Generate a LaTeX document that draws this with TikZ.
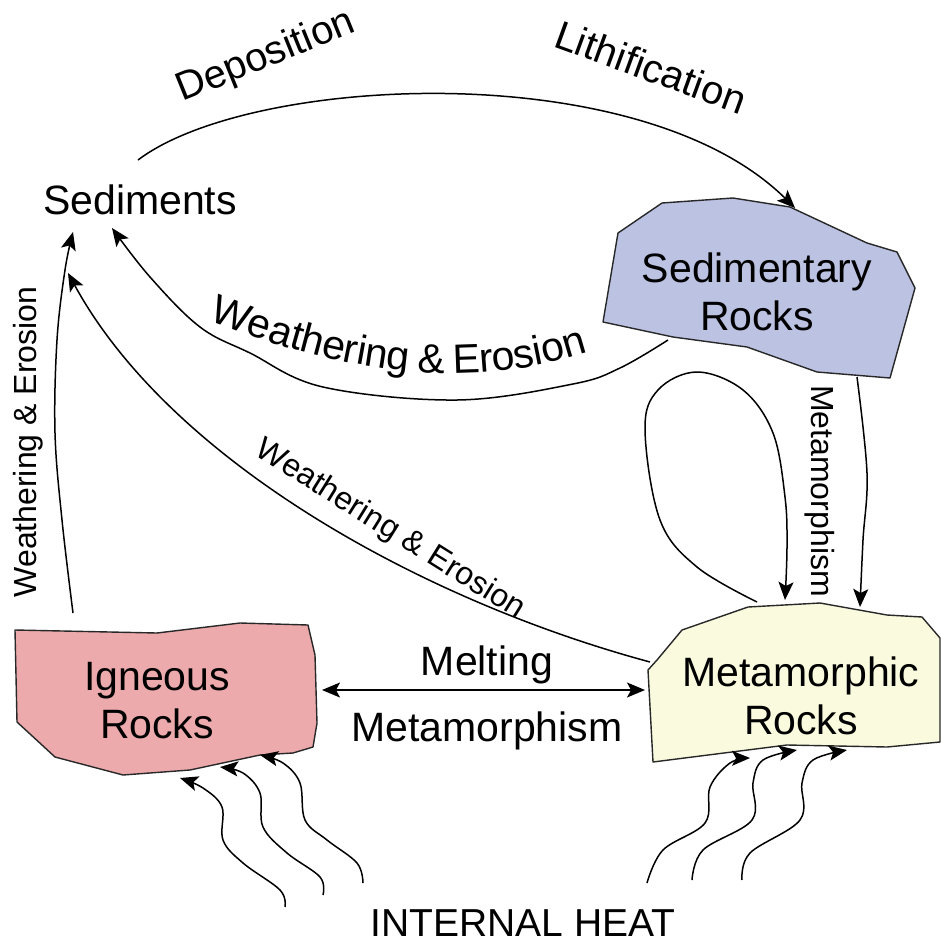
\documentclass[tikz,border=0pt]{standalone}
\usepackage{fontspec}
\setmainfont{Liberation Sans}
\usetikzlibrary{arrows.meta}
\definecolor{sedfill}{RGB}{187,194,226}
\definecolor{ignfill}{RGB}{236,170,172}
\definecolor{metfill}{RGB}{250,250,222}
\definecolor{edgecol}{RGB}{40,40,40}
\newcommand\szL{\fontsize{41}{48}\selectfont}
\newcommand\szM{\fontsize{40}{46}\selectfont}
\newcommand\szH{\fontsize{39}{46}\selectfont}
\newcommand\szS{\fontsize{32}{36}\selectfont}
\tikzset{
  rock/.style={draw=edgecol, line width=1.4pt, line join=round},
  lbl/.style={inner sep=0pt, align=center, text=black},
  ch/.style={inner sep=0pt, font=\szL, sloped, anchor=base},
  conn/.style={draw=black, line width=1.5pt, -{Stealth[length=18pt,width=15pt,inset=4pt]}},
  dbl/.style={draw=black, line width=1.5pt, {Stealth[length=18pt,width=15pt,inset=4pt]}-{Stealth[length=18pt,width=15pt,inset=4pt]}},
}
\begin{document}
\begin{tikzpicture}[x=1pt,y=-1pt]
\useasboundingbox (0,0) rectangle (940,945);
\fill[white] (0,0) rectangle (940,945);

% rock shapes
\path[rock, fill=sedfill] (662,203) -- (733,198) -- (790,207) -- (867,243) -- (897,252) -- (915,288) -- (890,378) -- (817,372) -- (747,347) -- (673,337) -- (603,322) -- (618,233) -- cycle;
\path[rock, fill=ignfill] (15,630) -- (157,633) -- (240,623) -- (308,625) -- (315,655) -- (317,723) -- (313,747) -- (293,753) -- (260,755) -- (190,770) -- (123,775) -- (55,757) -- (17,722) -- cycle;
\path[rock, fill=metfill] (648,670) -- (657,660) -- (682,630) -- (748,607) -- (820,603) -- (887,615) -- (922,617) -- (940,638) -- (940,742) -- (887,747) -- (787,745) -- (653,762) -- cycle;

% labels
\node[lbl, font=\szL, anchor=base] (sed) at (140,214) {Sediments};
\node[lbl, font=\szL] (sedrock) at (757,292) {Sedimentary\\Rocks};
\node[lbl, font=\szL] (ign) at (157,701) {Igneous\\Rocks};
\node[lbl, font=\szL] (met) at (801,696) {Metamorphic\\Rocks};
\node[lbl, font=\szL, anchor=base] (melt) at (487,675) {Melting};
\node[lbl, font=\szL, anchor=base] (metam) at (487,741) {Metamorphism};
\node[lbl, font=\szH, anchor=base] (heat) at (523,936) {INTERNAL HEAT};
\node[lbl, font=\szM, rotate=22] (depo) at (266,57) {Deposition};
\node[lbl, font=\szM, rotate=-20] (lith) at (651,67) {Lithification};
\node[lbl, font=\szS, rotate=90] (weL) at (28,442) {Weathering \& Erosion};
\node[lbl, font=\szS, rotate=-32] (weD) at (390,530) {Weathering \& Erosion};
\node[lbl, font=\szS, rotate=-90] (metaV) at (820,491) {Metamorphism};

% curved label along the big weathering arrow
\path (203,318) .. controls (335,370) and (460,395) .. (595,350)
  node[ch, pos=0.059] (c1) {W}
  node[ch, pos=0.134] (c2) {e}
  node[ch, pos=0.190] (c3) {a}
  node[ch, pos=0.232] (c4) {t}
  node[ch, pos=0.273] (c5) {h}
  node[ch, pos=0.329] (c6) {e}
  node[ch, pos=0.373] (c7) {r}
  node[ch, pos=0.401] (c8) {i}
  node[ch, pos=0.440] (c9) {n}
  node[ch, pos=0.496] (c10) {g}
  node[ch, pos=0.585] (c11) {\&}
  node[ch, pos=0.679] (c12) {E}
  node[ch, pos=0.729] (c13) {r}
  node[ch, pos=0.774] (c14) {o}
  node[ch, pos=0.826] (c15) {s}
  node[ch, pos=0.862] (c16) {i}
  node[ch, pos=0.901] (c17) {o}
  node[ch, pos=0.957] (c18) {n};

% connector end points
\coordinate (topS) at (138,160);
\coordinate (topE) at (795,208);
\coordinate (bigS) at (668,340);
\coordinate (bigE) at (112,228);
\coordinate (leftS) at (73,613);
\coordinate (leftE) at (73,232);
\coordinate (diaS) at (650,662);
\coordinate (diaE) at (68,273);
\coordinate (loopS) at (757,602);
\coordinate (loopE) at (785,600);
\coordinate (rS) at (857,377);
\coordinate (rE) at (860,607);
\coordinate (mL) at (322,690);
\coordinate (mR) at (645,690);

% connectors
\draw[conn] (topS) .. controls (250,75) and (640,55) .. (topE);
\draw[conn] plot[smooth, tension=0.6] coordinates {(bigS) (620,368) (573,384) (457,400) (323,387) (250,353) (200,327) (150,277) (bigE)};
\draw[conn] plot[smooth, tension=0.6] coordinates {(leftS) (62,520) (55,433) (57,340) (65,270) (leftE)};
\draw[conn] (diaS) .. controls (420,600) and (170,460) .. (diaE);
\draw[conn] plot[smooth, tension=0.6] coordinates {(loopS) (697,567) (660,520) (645,430) (658,390) (697,372) (743,390) (773,433) (785,497) (787,547) (loopE)};
\draw[conn] plot[smooth, tension=0.6] coordinates {(rS) (867,473) (863,540) (rE)};
\draw[dbl] (mL) -- (mR);

% heat arrows (igneous)
\draw[conn] plot[smooth, tension=0.6] coordinates {(285,907) (280,890) (243,863) (223,840) (222,807) (203,788) (180,778)};
\draw[conn] plot[smooth, tension=0.6] coordinates {(323,895) (320,877) (287,853) (263,827) (260,793) (243,773) (220,767)};
\draw[conn] plot[smooth, tension=0.6] coordinates {(363,883) (357,863) (327,840) (305,820) (300,783) (283,763) (260,755)};
% heat arrows (metamorphic)
\draw[conn] plot[smooth, tension=0.6] coordinates {(647,883) (663,850) (705,823) (710,787) (730,763) (750,758)};
\draw[conn] plot[smooth, tension=0.6] coordinates {(692,880) (703,850) (752,820) (753,783) (763,760) (797,750)};
\draw[conn] plot[smooth, tension=0.6] coordinates {(742,880) (750,853) (800,820) (802,783) (813,760) (847,750)};
\end{tikzpicture}
\end{document}
